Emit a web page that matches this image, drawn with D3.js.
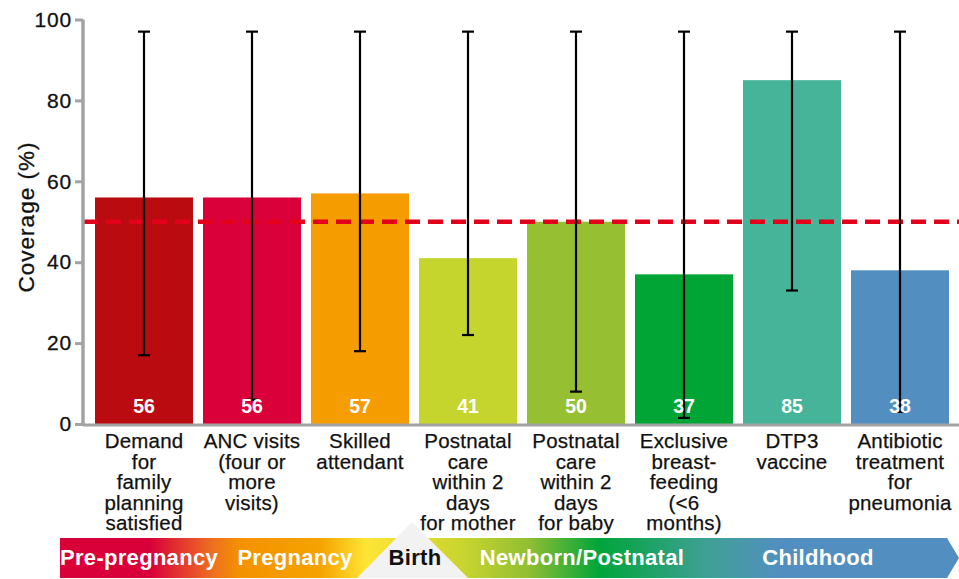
<!DOCTYPE html>
<html>
<head>
<meta charset="utf-8">
<script src="https://cdn.jsdelivr.net/npm/d3@7"></script>
<style>
  body { margin: 0; background: #fff; }
  svg { display: block; font-family: "Liberation Sans", Arial, sans-serif; }
</style>
</head>
<body>
<svg id="chart"></svg>
<script>
const categories = [
  ["Demand", "for", "family", "planning", "satisfied"],
  ["ANC visits", "(four or", "more", "visits)"],
  ["Skilled", "attendant"],
  ["Postnatal", "care", "within 2", "days", "for mother"],
  ["Postnatal", "care", "within 2", "days", "for baby"],
  ["Exclusive", "breast-", "feeding", "(<6", "months)"],
  ["DTP3", "vaccine"],
  ["Antibiotic", "treatment", "for", "pneumonia"]
];
const coverage = [56, 56, 57, 41, 50, 37, 85, 38];
const errLow = [17, 6, 18, 22, 8, 1.5, 33, 3];
const errHigh = [97, 97, 97, 97, 97, 97, 97, 97];
const barColors = ["#BA0C10", "#DA003A", "#F59C00", "#C6D42E", "#96C031", "#00A535", "#46B498", "#528FC0"];
const yTicks = [0, 20, 40, 60, 80, 100];
const threshold = 50;
const stages = ["Pre-pregnancy", "Pregnancy", "Birth", "Newborn/Postnatal", "Childhood"];

const WIDTH = 959, HEIGHT = 579;
const AXIS_GREY = "#A3A3A3";
const INK = "#111";

const svg = d3.select("#chart").attr("width", WIDTH).attr("height", HEIGHT);

const ids = categories.map((d, i) => i);
const xScale = d3.scaleBand().domain(ids).range([90, 954]).paddingInner(10 / 108).paddingOuter(5 / 108);
const yScale = d3.scaleLinear().domain([0, 100]).range([424, 19.5]);

// bars
svg.selectAll(".bar")
  .data(coverage)
  .enter()
  .append("rect")
  .attr("class", "bar")
  .attr("x", (d, i) => xScale(i))
  .attr("y", (d) => yScale(d))
  .attr("width", xScale.bandwidth())
  .attr("height", (d) => yScale(0) - yScale(d))
  .style("fill", (d, i) => barColors[i]);

// threshold dashed line
svg.append("line")
  .attr("x1", 83).attr("x2", WIDTH)
  .attr("y1", yScale(threshold)).attr("y2", yScale(threshold))
  .attr("stroke", "#E2001A")
  .attr("stroke-width", 4.5)
  .attr("stroke-dasharray", "15,8");

// error bars
const cx = (i) => xScale(i) + xScale.bandwidth() / 2;
const err = svg.append("g").attr("stroke", "#000").attr("stroke-width", 2.2);
err.selectAll(".stem").data(ids).enter().append("line")
  .attr("x1", cx).attr("x2", cx)
  .attr("y1", (i) => yScale(errLow[i])).attr("y2", (i) => yScale(errHigh[i]));
err.selectAll(".capTop").data(ids).enter().append("line")
  .attr("x1", (i) => cx(i) - 6).attr("x2", (i) => cx(i) + 6)
  .attr("y1", (i) => yScale(errHigh[i])).attr("y2", (i) => yScale(errHigh[i]));
err.selectAll(".capLow").data(ids).enter().append("line")
  .attr("x1", (i) => cx(i) - 6).attr("x2", (i) => cx(i) + 6)
  .attr("y1", (i) => yScale(errLow[i])).attr("y2", (i) => yScale(errLow[i]));

// value labels
svg.selectAll(".val").data(coverage).enter().append("text")
  .attr("x", (d, i) => cx(i))
  .attr("y", 413)
  .attr("text-anchor", "middle")
  .attr("font-size", "19.5px")
  .attr("font-weight", "bold")
  .attr("fill", "#fff")
  .text((d) => d);

// y axis
const yAxis = d3.axisLeft(yScale).tickValues(yTicks).tickSize(8).tickPadding(3);
const gy = svg.append("g").attr("transform", "translate(83,0)").call(yAxis);
gy.select(".domain").remove();
gy.selectAll(".tick line").attr("stroke", AXIS_GREY).attr("stroke-width", 3);
gy.selectAll(".tick text")
  .attr("font-size", "21px")
  .attr("letter-spacing", "0.8px")
  .attr("fill", INK)
  .attr("stroke", INK).attr("stroke-width", 0.3)
  .attr("font-family", "Liberation Sans, Arial, sans-serif");
svg.append("line")
  .attr("x1", 83).attr("x2", 83)
  .attr("y1", yScale(100)).attr("y2", yScale(0) + 2)
  .attr("stroke", AXIS_GREY).attr("stroke-width", 3.5);

// x baseline
svg.append("line")
  .attr("x1", 83).attr("x2", WIDTH)
  .attr("y1", yScale(0) + 1).attr("y2", yScale(0) + 1)
  .attr("stroke", AXIS_GREY).attr("stroke-width", 3);

// y title
svg.append("text")
  .attr("transform", "translate(34," + 217 + ") rotate(-90)")
  .attr("text-anchor", "middle")
  .attr("font-size", "22.5px")
  .attr("letter-spacing", "1px")
  .attr("fill", INK)
  .attr("stroke", INK).attr("stroke-width", 0.3)
  .text("Coverage (%)");

// category labels
const labels = svg.selectAll(".cat").data(categories).enter().append("text")
  .attr("text-anchor", "middle")
  .attr("font-size", "20.5px")
  .attr("letter-spacing", "0.2px")
  .attr("fill", INK)
  .attr("stroke", INK).attr("stroke-width", 0.25);
labels.selectAll("tspan").data((d, i) => d.map((t) => ({ t, i }))).enter().append("tspan")
  .attr("x", (d) => cx(d.i))
  .attr("y", (d, j) => 448 + j * 20.5)
  .text((d) => d.t);

// life-course banner
const defs = svg.append("defs");
const grad = defs.append("linearGradient").attr("id", "lifeGrad")
  .attr("gradientUnits", "userSpaceOnUse")
  .attr("x1", 60).attr("x2", 959).attr("y1", 0).attr("y2", 0);
[[0, "#D9003A"], [0.1, "#D9003A"], [0.17, "#EE7020"], [0.2, "#F39200"], [0.29, "#F5A300"],
 [0.34, "#FFE535"], [0.45, "#C8D42F"], [0.52, "#92BF33"], [0.6, "#00A53A"], [0.72, "#3FA095"],
 [0.8, "#528FC0"], [1, "#528FC0"]].forEach(([o, c]) => {
  grad.append("stop").attr("offset", o).attr("stop-color", c);
});
svg.append("polygon")
  .attr("points", "60,538 947,538 959,558 947,578 60,578")
  .attr("fill", "url(#lifeGrad)");
svg.append("polygon")
  .attr("points", "412,522 468,578 357,578")
  .attr("fill", "#F2F2F2");

const stageCentres = [139, 295, 415, 582, 818];
svg.selectAll(".stage").data(stages).enter().append("text")
  .attr("x", (d, i) => stageCentres[i])
  .attr("y", 565)
  .attr("text-anchor", "middle")
  .attr("font-size", "22px")
  .attr("letter-spacing", "0.3px")
  .attr("font-weight", "bold")
  .attr("fill", (d) => d === "Birth" ? INK : "#fff")
  .text((d) => d);
</script>
</body>
</html>
